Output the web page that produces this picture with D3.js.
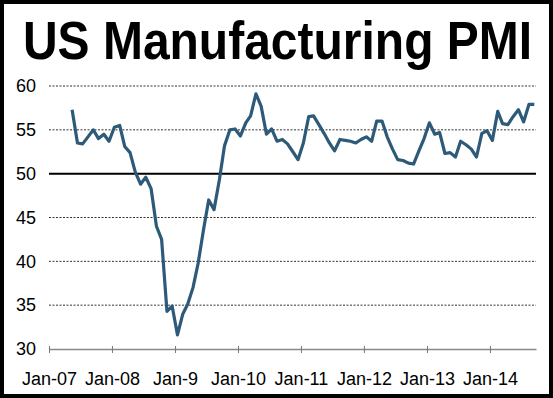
<!DOCTYPE html>
<html>
<head>
<meta charset="utf-8">
<script src="https://cdn.jsdelivr.net/npm/d3@7"></script>
<style>
  body { margin: 0; background: #fff; }
  svg { display: block; font-family: Arial, "Liberation Sans", sans-serif; }
</style>
</head>
<body>
<div id="chart"></div>
<script>
// monthly PMI readings, May-07 .. Sep-14
const pmiValues = [
  57.3, 53.5, 53.4, 54.2, 55.0, 54.0, 54.5, 53.7,             // May-07 .. Dec-07
  55.3, 55.5, 53.1, 52.4, 50.2, 48.8, 49.6, 48.3, 44.0, 42.5, 34.3, 34.9, // 2008
  31.6, 34.0, 35.1, 37.0, 39.8, 43.6, 47.0, 45.9, 49.3, 53.2, 55.0, 55.1, // 2009
  54.3, 55.8, 56.6, 59.1, 57.7, 54.5, 55.1, 53.7, 53.9, 53.4, 52.5, 51.6, // 2010
  53.5, 56.5, 56.6, 55.6, 54.6, 53.5, 52.6, 53.9, 53.8, 53.7, 53.5, 53.9, // 2011
  54.2, 53.7, 56.0, 56.0, 54.2, 52.8, 51.6, 51.5, 51.2, 51.1, 52.6, 54.0, // 2012
  55.8, 54.5, 54.7, 52.3, 52.4, 51.9, 53.7, 53.3, 52.8, 51.9, 54.6, 54.9, // 2013
  53.8, 57.1, 55.7, 55.6, 56.5, 57.3, 55.9, 57.9, 57.9              // Jan-14 .. Sep-14
];
const firstMonth = new Date(2007, 4, 15);
const months = pmiValues.map((_, i) => d3.timeMonth.offset(firstMonth, i));

const yTicks = [30, 35, 40, 45, 50, 55, 60];
const xTickDates = d3.range(2007, 2015).map(y => new Date(y, 0, 1));
const xTickLabels = ["Jan-07", "Jan-08", "Jan-9", "Jan-10", "Jan-11", "Jan-12", "Jan-13", "Jan-14"];

const W = 553, H = 398;

const svg = d3.select("#chart").append("svg")
    .attr("width", W)
    .attr("height", H);

svg.append("rect")
    .attr("x", 2).attr("y", 2)
    .attr("width", W - 4).attr("height", H - 4)
    .attr("fill", "#fff")
    .attr("stroke", "#000")
    .attr("stroke-width", 4);

// title, a bit taller than wide like the original
svg.append("text")
    .attr("transform", `translate(${W / 2 + 1},59) scale(1,1.1)`)
    .attr("text-anchor", "middle")
    .style("font-size", "48px")
    .style("font-weight", "bold")
    .text("US Manufacturing PMI");

const xScale = d3.scaleTime()
    .domain([new Date(2007, 0, 1), new Date(2014, 8, 25)])
    .range([49, 536]);

const yScale = d3.scaleLinear()
    .domain([30, 60])
    .range([349, 86]);

// gridlines
svg.append("g")
    .selectAll("line")
    .data(yTicks.filter(d => d !== 30))
    .join("line")
    .attr("x1", 49)
    .attr("x2", 536)
    .attr("y1", d => yScale(d))
    .attr("y2", d => yScale(d))
    .attr("stroke", d => d === 50 ? "#000" : "#333")
    .attr("stroke-width", d => d === 50 ? 2 : 1)
    .attr("stroke-dasharray", d => d === 50 ? null : "2,1.5");

// y labels
svg.append("g")
    .selectAll("text")
    .data(yTicks)
    .join("text")
    .attr("x", 36)
    .attr("y", d => yScale(d))
    .attr("dy", "0.35em")
    .attr("text-anchor", "end")
    .style("font-size", "18px")
    .text(d => d);

// x axis
const xAxis = svg.append("g")
    .attr("transform", `translate(0,${yScale(30)})`)
    .call(d3.axisBottom(xScale)
        .tickValues(xTickDates)
        .tickSize(4)
        .tickSizeOuter(0)
        .tickFormat((d, i) => xTickLabels[i]));

xAxis.select(".domain")
    .attr("stroke", "#888")
    .attr("stroke-width", 1.5);
xAxis.selectAll(".tick line")
    .attr("stroke", "#777")
    .attr("y1", -3);
xAxis.selectAll(".tick text")
    .attr("y", 0)
    .attr("dy", 0)
    .attr("transform", "translate(0,36)")
    .attr("fill", "#000")
    .style("font-size", "18px")
    .style("font-family", "Arial, 'Liberation Sans', sans-serif");

// PMI line
const line = d3.line()
    .x((_, i) => xScale(months[i]))
    .y(d => yScale(d));

svg.append("path")
    .datum(pmiValues)
    .attr("fill", "none")
    .attr("stroke", "#2d5a78")
    .attr("stroke-width", 3.2)
    .attr("stroke-linejoin", "round")
    .attr("d", line);
</script>
</body>
</html>
